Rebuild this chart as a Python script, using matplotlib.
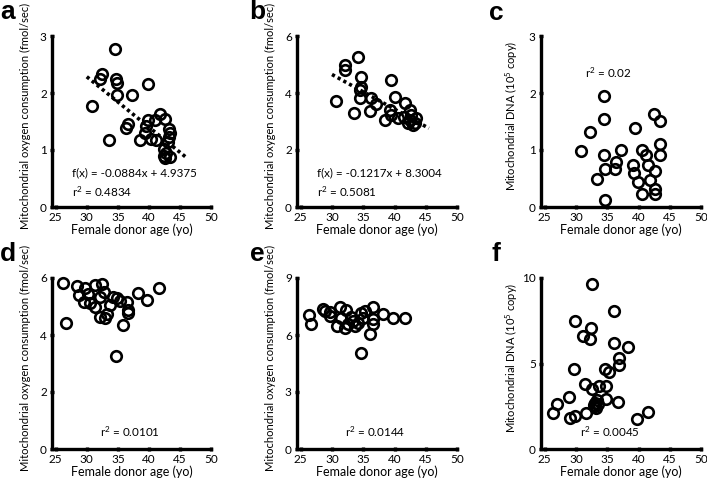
import matplotlib
matplotlib.use('Agg')
import matplotlib.pyplot as plt

plt.rcParams['font.family'] = ['Lato', 'DejaVu Sans']
plt.rcParams['mathtext.fontset'] = 'custom'
plt.rcParams['mathtext.rm'] = 'Lato'
plt.rcParams['mathtext.it'] = 'Lato:italic'

# Datos
edad_a = [34.5, 32.4, 32.2, 34.7, 34.8, 39.9, 30.9, 34.8, 37.2, 36.6, 36.3, 33.5, 38.6, 39.3, 39.6,
          39.9, 40.4, 41.0, 41.8, 42.6, 41.2, 42.4, 42.5, 42.6, 43.4, 43.3, 43.4, 43.3, 43.1, 42.8]
ocr_a = [2.78, 2.33, 2.24, 2.24, 2.17, 2.16, 1.78, 1.96, 1.96, 1.46, 1.38, 1.18, 1.18, 1.30, 1.42,
         1.52, 1.20, 1.53, 1.63, 1.55, 1.18, 1.02, 0.90, 0.86, 0.87, 1.37, 1.30, 1.23, 1.14, 0.95]

edad_b = [34.1, 32.1, 32.1, 34.6, 34.6, 34.5, 34.4, 30.6, 33.5, 36.2, 36.0, 37.0, 39.5, 40.1,
          39.2, 39.5, 38.4, 41.7, 42.5, 40.6, 41.5, 42.2, 43.0, 43.5, 42.7, 42.4, 43.2]
ocr_b = [5.27, 4.98, 4.81, 4.57, 4.22, 4.10, 3.81, 3.72, 3.29, 3.81, 3.37, 3.60, 4.46, 3.87,
         3.40, 3.23, 3.05, 3.64, 3.40, 3.11, 3.17, 2.94, 2.88, 3.11, 3.22, 3.05, 2.95]

edad_c = [34.4, 34.5, 32.2, 30.8, 34.5, 34.7, 36.2, 36.4, 37.2, 33.3, 34.7, 39.5, 39.1, 39.2,
          39.9, 40.5, 40.5, 41.2, 41.5, 41.9, 42.6, 42.6, 42.6, 42.5, 43.5, 43.5, 43.4]
adn_c = [1.95, 1.55, 1.31, 0.98, 0.92, 0.66, 0.66, 0.79, 1.00, 0.50, 0.13, 1.39, 0.74, 0.60,
         0.43, 0.23, 1.00, 0.91, 0.74, 0.47, 0.63, 0.32, 0.22, 1.63, 1.51, 1.10, 0.92]

edad_d = [26.2, 26.6, 28.4, 28.7, 29.5, 29.7, 30.2, 30.5, 31.3, 31.3, 32.4, 32.7, 32.1, 32.9,
          33.2, 33.8, 34.3, 34.8, 35.3, 34.7, 36.5, 36.7, 36.7, 35.9, 38.2, 39.7, 41.6, 32.2]
ocr_d = [5.81, 4.43, 5.72, 5.40, 5.17, 5.64, 5.45, 5.11, 4.99, 5.75, 5.79, 5.52, 4.64, 4.59,
         4.72, 5.05, 5.32, 5.29, 5.20, 3.25, 5.17, 4.88, 4.76, 4.35, 5.46, 5.23, 5.64, 5.35]

edad_e = [26.3, 26.7, 28.5, 28.9, 29.6, 29.7, 30.8, 31.2, 31.5, 32.3, 32.0, 33.0, 33.3, 33.6,
          34.2, 34.6, 35.2, 34.7, 36.0, 36.6, 36.6, 36.5, 38.2, 39.8, 41.6, 32.6, 35.0]
ocr_e = [7.06, 6.60, 7.36, 7.24, 7.20, 7.00, 6.48, 7.45, 6.92, 7.31, 6.36, 6.95, 6.74, 6.48,
         6.65, 7.18, 7.27, 5.07, 6.04, 7.45, 6.83, 6.57, 7.13, 6.88, 6.87, 6.60, 6.90]

edad_f = [32.5, 36.1, 29.8, 32.4, 31.1, 32.2, 36.0, 38.3, 36.8, 36.8, 29.7, 34.7, 35.2, 31.5,
          32.6, 33.7, 34.8, 28.8, 27.0, 26.3, 29.0, 29.9, 31.6, 33.4, 33.2, 34.8, 36.7, 39.8,
          41.5, 32.9, 33.1, 33.5, 33.0]
adn_f = [9.65, 8.09, 7.48, 7.05, 6.61, 6.46, 6.20, 5.96, 5.33, 4.94, 4.65, 4.65, 4.49, 3.80,
         3.50, 3.70, 3.70, 3.05, 2.62, 2.09, 1.83, 1.93, 2.13, 2.85, 2.42, 2.95, 2.76, 1.73,
         2.19, 2.55, 2.70, 2.65, 2.50]

ylab_ocr = 'Mitochondrial oxygen consumption (fmol/sec)'
ylab_adn = 'Mitochondrial DNA (10$^5$ copy)'

fig = plt.figure(figsize=(7.07, 4.78), dpi=100)
W, H = 707, 478


# Un panel de dispersión con círculos abiertos
def f_panel(caja, x, y, ymax, paso, ylabel, texto, pos_texto, recta=None):
    izq, arriba, der, abajo = caja
    ax = fig.add_axes([izq / W, 1 - abajo / H, (der - izq) / W, (abajo - arriba) / H])
    ax.plot(x, y, 'o', ms=7.6, mfc='none', mec='black', mew=1.9, clip_on=False)
    if recta:
        m, b, x0, x1 = recta
        ax.plot([x0, x1], [m * x0 + b, m * x1 + b], color='black', lw=2.6,
                linestyle=(0, (0.9, 0.9)))
    ax.set_xlim(24.4, 50)
    ax.set_ylim(0, ymax)
    ax.set_xticks(range(25, 51, 5))
    n = int(round(ymax / paso))
    ax.set_yticks([paso * i for i in range(n + 1)])
    ax.set_yticklabels([f'{paso * i:g}' for i in range(n + 1)])
    for s in ['top', 'right']:
        ax.spines[s].set_visible(False)
    for s in ['left', 'bottom']:
        ax.spines[s].set_linewidth(2.4)
    ax.tick_params(direction='inout', length=3.5, width=2.4, labelsize=8.5, pad=2)
    ax.set_xlabel('Female donor age (yo)', fontsize=9, labelpad=0)
    ax.set_ylabel(ylabel, fontsize=8, labelpad=3)
    ax.yaxis.set_label_coords(-0.13, 0.535)
    tx, ty = pos_texto
    ax.text(tx, ty, texto, fontsize=8.4, ha='left', va='center', linespacing=1.5)
    return ax


f_panel((52, 36, 211, 207), edad_a, ocr_a, 3, 1, ylab_ocr,
        'f(x) = -0.0884x + 4.9375\nr$^2$ = 0.4834', (27.7, 0.42),
        recta=(-0.0884, 4.9375, 30, 46))
f_panel((297, 36, 457, 207), edad_b, ocr_b, 6, 2, ylab_ocr,
        'f(x) = -0.1217x + 8.3004\nr$^2$ = 0.5081', (27.6, 0.85),
        recta=(-0.1217, 8.3004, 30, 45.5))
f_panel((541, 36, 701, 207), edad_c, adn_c, 3, 1, ylab_adn,
        'r$^2$ = 0.02', (31.4, 2.36))
f_panel((52, 278, 211, 449), edad_d, ocr_d, 6, 2, ylab_ocr,
        'r$^2$ = 0.0101', (32.2, 0.6))
f_panel((297, 278, 457, 449), edad_e, ocr_e, 9, 3, ylab_ocr,
        'r$^2$ = 0.0144', (32.1, 0.9))
f_panel((541, 278, 701, 449), edad_f, adn_f, 10, 5, ylab_adn,
        'r$^2$ = 0.0045', (30.6, 1.0))

# Letras de los paneles
for letra, px, py in [('a', 0, 19), ('b', 249, 19), ('c', 489, 20),
                      ('d', 0, 261), ('e', 250, 261), ('f', 491, 261)]:
    fig.text(px / W, 1 - py / H, letra, fontsize=19, fontweight='bold',
             family=['Liberation Sans', 'DejaVu Sans'], ha='left', va='baseline')

fig.savefig('out.png', dpi=100)
